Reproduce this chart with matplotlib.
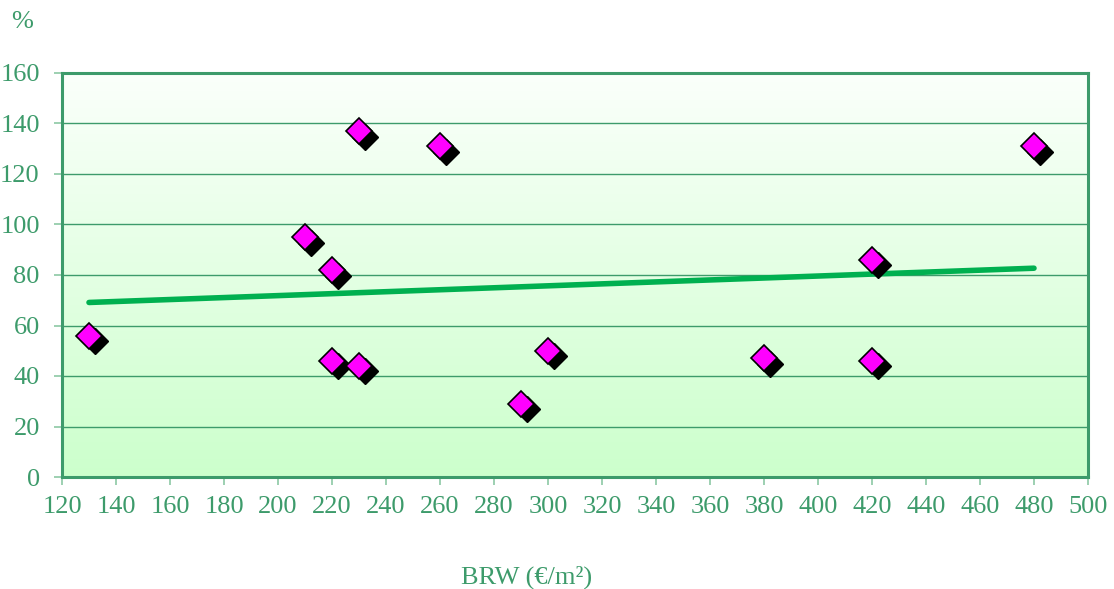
import numpy as np
import matplotlib
matplotlib.use('Agg')
import matplotlib.pyplot as plt
from matplotlib.colors import LinearSegmentedColormap
from matplotlib.transforms import offset_copy

brw = [130, 210, 220, 220, 230, 230, 260, 290, 300, 380, 420, 420, 480]
pct = [56, 95, 82, 46, 137, 44, 131, 29, 50, 47, 86, 46, 131]
xticks = list(range(120, 501, 20))
yticks = list(range(0, 161, 20))

green = '#3d9b6b'
plt.rcParams['font.family'] = ['Liberation Serif', 'DejaVu Serif']

fig = plt.figure(figsize=(11.14, 5.89), dpi=100)
ax = fig.add_axes([62 / 1114, 1 - 477 / 589, 1026 / 1114, 404 / 589])
ax.set_xlim(120, 500)
ax.set_ylim(0, 160)

# gradient background
cmap = LinearSegmentedColormap.from_list('bg', ['#ccffcc', '#fbfffb'])
grad = np.linspace(0, 1, 256).reshape(-1, 1)
ax.imshow(grad, extent=[0, 1, 0, 1], transform=ax.transAxes, origin='lower',
          cmap=cmap, aspect='auto', zorder=0)

ax.set_xticks(xticks)
ax.set_yticks(yticks)
ax.grid(axis='y', color=green, linewidth=1, zorder=1)
ax.set_axisbelow(True)
for s in ax.spines.values():
    s.set_color(green)
    s.set_linewidth(2.2)
ax.tick_params(axis='both', colors='#8cc8a4', labelcolor=green, labelsize=19,
               length=6, width=1.2, direction='out')
ax.tick_params(axis='x', pad=8)
ax.tick_params(axis='y', pad=10)

# trend line
k, b = np.polyfit(brw, pct, 1)
xs = np.array([min(brw), max(brw)])
ax.plot(xs, k * xs + b, color='#00b050', linewidth=4, solid_capstyle='round', zorder=3)

# markers with shadow
shadow = offset_copy(ax.transData, fig=fig, x=4, y=-4, units='points')
ax.plot(brw, pct, linestyle='none', marker='D', markersize=13.5, color='black',
        markeredgecolor='black', transform=shadow, zorder=4)
ax.plot(brw, pct, linestyle='none', marker='D', markersize=13.5, color='#ff00ff',
        markeredgecolor='black', markeredgewidth=1.2, zorder=5)

fig.text(22 / 1114, 1 - 22 / 589, '%', color=green, fontsize=19, ha='center', va='center')
fig.text(527 / 1114, 1 - 577 / 589, 'BRW (€/m²)', color=green, fontsize=19,
         ha='center', va='center')

fig.savefig('out.png', dpi=100)
